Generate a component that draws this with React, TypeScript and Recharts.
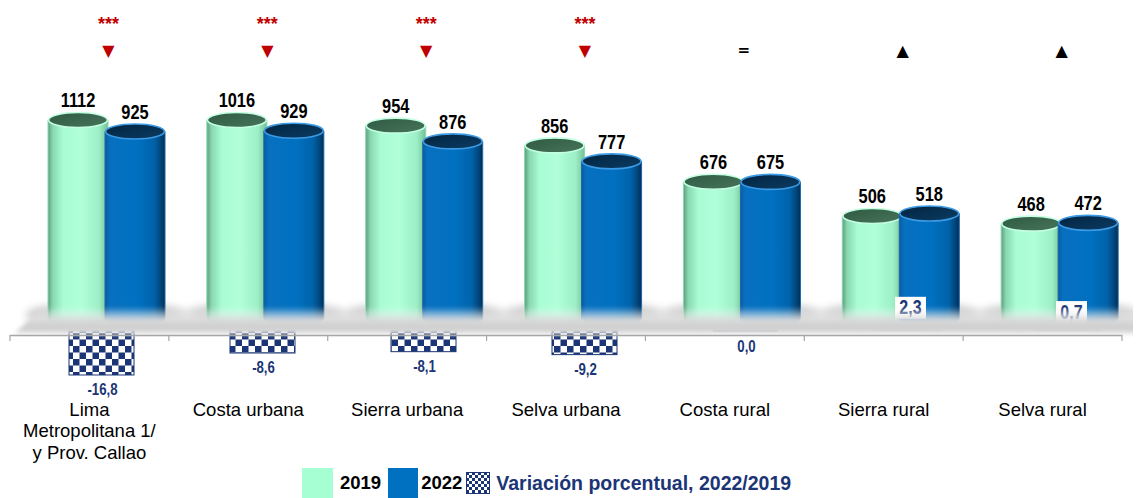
import React from "react";
import { ComposedChart, Bar, XAxis, YAxis, ReferenceLine } from "recharts";

// ---------- data ----------
const categories = [
  "Lima\nMetropolitana 1/\ny Prov. Callao",
  "Costa urbana",
  "Sierra urbana",
  "Selva urbana",
  "Costa rural",
  "Sierra rural",
  "Selva rural",
];
const values2019 = [1112, 1016, 954, 856, 676, 506, 468];
const values2022 = [925, 929, 876, 777, 675, 518, 472];
const variation = [-16.8, -8.6, -8.1, -9.2, 0.0, 2.3, 0.7];
const significance = ["***", "***", "***", "***", "", "", ""];
const direction = ["▼", "▼", "▼", "▼", "=", "▲", "▲"];
const seriesNames = ["2019", "2022", "Variación porcentual, 2022/2019"];

const data = categories.map((cat, i) => ({
  cat,
  y2019: values2019[i],
  y2022: values2022[i],
  variation: variation[i],
}));

// ---------- layout / style ----------
const CHART_W = 1133;
const CHART_H = 460;
const TOP_AXIS_H = 128;
const BOTTOM_AXIS_H = 89;
const MARGIN = { top: 0, right: 19, left: 2, bottom: 0 };
const PLOT_TOP = MARGIN.top + TOP_AXIS_H;
const DEPTH_DX = 17;
const DEPTH_DY = -16;
const RY = 7.5;
const NAVY = "#1b3576";
const SANS = '"Liberation Sans", Arial, sans-serif';
const CONDENSE = 0.8;

const GREEN = { body: "url(#gBody)", top: "url(#gTop)", rim: "#c4ffe2", outline: "#86d9b0" };
const BLUE = { body: "url(#bBody)", top: "url(#bTop)", rim: "#3d9ae4", outline: "#1867ad" };

const fmt = (v: number) => v.toFixed(1).replace(".", ",");

// condensed bold text (Arial Narrow look)
const NarrowText = ({ x, y, size, fill, children }: any) => (
  <text
    transform={`translate(${x},${y}) scale(${CONDENSE},1)`}
    x={0}
    y={0}
    textAnchor="middle"
    dominantBaseline="central"
    fontFamily={SANS}
    fontWeight="bold"
    fontSize={size}
    fill={fill}
  >
    {children}
  </text>
);

function makeCylinder(key: "y2019" | "y2022") {
  const c = key === "y2019" ? GREEN : BLUE;
  return (p: any) => {
    const { x, y, width, height, payload } = p;
    if (x == null || y == null) return null;
    const top0 = Math.min(y, y + height);
    const bot0 = Math.max(y, y + height);
    const topY = Math.max(top0, PLOT_TOP) + DEPTH_DY;
    const botY = bot0 + DEPTH_DY;
    const left = x + DEPTH_DX;
    const w = width;
    const rx = w / 2;
    const cx = left + rx;
    const shadowDx = key === "y2019" ? -10 : 10;
    return (
      <g>
        <ellipse
          cx={cx + shadowDx}
          cy={botY - 3}
          rx={rx + 12}
          ry={10}
          fill="#8a8a8a"
          opacity={0.5}
          filter="url(#shadowBlur)"
        />
        <path
          d={`M${left},${topY} L${left},${botY} A${rx},${RY} 0 0 0 ${left + w},${botY} L${left + w},${topY} Z`}
          fill={c.body}
          stroke={c.outline}
          strokeWidth={1}
        />
        <ellipse cx={cx} cy={topY} rx={rx - 0.6} ry={RY} fill={c.top} stroke={c.rim} strokeWidth={1.6} />
        <NarrowText x={cx} y={topY - 20} size={20.5} fill="#000">
          {payload[key]}
        </NarrowText>
      </g>
    );
  };
}

const VarBar = (p: any) => {
  const { x, y, width, height, payload } = p;
  if (x == null || y == null) return null;
  const v = payload.variation as number;
  const top = Math.min(y, y + height);
  const h = Math.abs(height);
  const cx = x + width / 2;
  return (
    <g>
      {h < 1 ? (
        <rect x={x} y={top - 1.5} width={width} height={3} fill={NAVY} />
      ) : (
        <rect x={x} y={top} width={width} height={h} fill="url(#checker)" stroke={NAVY} strokeWidth={1} />
      )}
      {v > 0 ? (
        <g>
          <rect x={cx + 4 - 15.5} y={top - 27} width={31} height={22} fill="#fff" />
          <NarrowText x={cx + 4} y={top - 16} size={20} fill={NAVY}>
            {fmt(v)}
          </NarrowText>
        </g>
      ) : (
        <g>
          <rect x={cx - 16} y={top + Math.max(h, 1.5) + 3} width={32} height={22} fill="#fff" />
          <NarrowText x={cx + 1} y={top + Math.max(h, 1.5) + 14} size={16.5} fill={NAVY}>
            {fmt(v)}
          </NarrowText>
        </g>
      )}
    </g>
  );
};

const CatTick = (p: any) => {
  const { x, y, payload } = p;
  const lines = String(payload.value).split("\n");
  return (
    <g>
      {lines.map((l, k) => (
        <text
          key={k}
          x={x}
          y={y + 22 + k * 21.5}
          textAnchor="middle"
          dominantBaseline="central"
          fontFamily={SANS}
          fontSize={18.5}
          fill="#000"
        >
          {l}
        </text>
      ))}
    </g>
  );
};

const TopTick = (p: any) => {
  const { x, payload } = p;
  const i = payload.index;
  const cx = x + DEPTH_DX + 2;
  const d = direction[i];
  const isTri = d !== "=";
  return (
    <g>
      {significance[i] ? (
        <text x={cx} y={22} textAnchor="middle" fontFamily={SANS} fontWeight="bold" fontSize={18} fill="#c00000">
          {significance[i]}
        </text>
      ) : null}
      <text
        x={cx}
        y={42}
        textAnchor="middle"
        dominantBaseline="central"
        fontFamily='"DejaVu Sans", sans-serif'
        fontWeight="bold"
        fontSize={isTri ? 16 : 15}
        fill={d === "▼" ? "#c00000" : "#000"}
      >
        {d}
      </text>
    </g>
  );
};

const FloorAndAxis = (p: any) => {
  const { x1, y1, x2 } = p;
  if (x1 == null) return null;
  const y0 = y1;
  const n = categories.length;
  const band = (x2 - x1) / n;
  return (
    <g>
      <polygon
        points={`${x1 + 4},${y0} ${x1 + 32},${y0 - 27} ${x2 + 19},${y0 - 27} ${x2 + 19},${y0}`}
        fill="url(#floorGrad)"
        filter="url(#floorBlur)"
      />
      <line x1={x1} y1={y0 + 1.5} x2={x2} y2={y0 + 1.5} stroke="#a6a6a6" strokeWidth={1.5} />
      {Array.from({ length: n + 1 }, (_, k) => (
        <line key={k} x1={x1 + k * band} y1={y0 + 1} x2={x1 + k * band} y2={y0 + 7} stroke="#a6a6a6" strokeWidth={1.2} />
      ))}
    </g>
  );
};

export default function App() {
  return (
    <div className="chart3d" style={{ position: "relative", width: CHART_W, height: 490 }}>
      <style>{`html,body{overflow:hidden} .chart3d g[clip-path]{clip-path:none !important}`}</style>
      <svg width="0" height="0" style={{ position: "absolute" }}>
        <defs>
          <linearGradient id="gBody" x1="0" y1="0" x2="1" y2="0">
            <stop offset="0" stopColor="#5f9c7d" />
            <stop offset="0.08" stopColor="#88d8b0" />
            <stop offset="0.25" stopColor="#a9fcd3" />
            <stop offset="0.55" stopColor="#b0ffda" />
            <stop offset="0.85" stopColor="#9cefc6" />
            <stop offset="1" stopColor="#74bf98" />
          </linearGradient>
          <linearGradient id="gTop" x1="0" y1="0" x2="1" y2="1">
            <stop offset="0" stopColor="#2f5a43" />
            <stop offset="1" stopColor="#47745a" />
          </linearGradient>
          <linearGradient id="bBody" x1="0" y1="0" x2="1" y2="0">
            <stop offset="0" stopColor="#0a5c9e" />
            <stop offset="0.08" stopColor="#0870c0" />
            <stop offset="0.55" stopColor="#0070c0" />
            <stop offset="0.82" stopColor="#0062a9" />
            <stop offset="0.93" stopColor="#01467c" />
            <stop offset="1" stopColor="#002d52" />
          </linearGradient>
          <linearGradient id="bTop" x1="0" y1="0" x2="1" y2="1">
            <stop offset="0" stopColor="#032440" />
            <stop offset="1" stopColor="#0b3c63" />
          </linearGradient>
          <pattern id="checker" width="13" height="13" patternUnits="userSpaceOnUse">
            <rect width="13" height="13" fill="#fff" />
            <rect width="6.5" height="6.5" fill={NAVY} />
            <rect x="6.5" y="6.5" width="6.5" height="6.5" fill={NAVY} />
          </pattern>
          <pattern id="checkerSmall" width="6" height="6" patternUnits="userSpaceOnUse">
            <rect width="6" height="6" fill="#fff" />
            <rect width="3" height="3" fill={NAVY} />
            <rect x="3" y="3" width="3" height="3" fill={NAVY} />
          </pattern>
          <linearGradient id="floorGrad" x1="0" y1="0" x2="0" y2="1">
            <stop offset="0" stopColor="#ffffff" stopOpacity="0" />
            <stop offset="0.5" stopColor="#d9d9d9" />
            <stop offset="0.8" stopColor="#cdcdcd" />
            <stop offset="1" stopColor="#e8e8e8" />
          </linearGradient>
          <filter id="floorBlur" x="-5%" y="-50%" width="110%" height="200%">
            <feGaussianBlur stdDeviation="2" />
          </filter>
          <filter id="shadowBlur" x="-50%" y="-100%" width="200%" height="300%">
            <feGaussianBlur stdDeviation="4" />
          </filter>
        </defs>
      </svg>
      <ComposedChart width={CHART_W} height={CHART_H} data={data} margin={MARGIN} barGap={-3}>
        <XAxis
          xAxisId="top"
          orientation="top"
          dataKey="cat"
          height={TOP_AXIS_H}
          axisLine={false}
          tickLine={false}
          interval={0}
          tick={<TopTick />}
        />
        <XAxis
          xAxisId="cat"
          dataKey="cat"
          height={BOTTOM_AXIS_H}
          axisLine={false}
          tickLine={false}
          interval={0}
          tick={<CatTick />}
        />
        <XAxis xAxisId="var" dataKey="cat" hide padding={{ left: 11, right: -26 }} />
        <YAxis yAxisId="main" hide domain={[-223, 982]} allowDataOverflow />
        <YAxis yAxisId="var" hide domain={[-18.3, 72.4]} />
        <ReferenceLine xAxisId="cat" yAxisId="main" y={0} shape={<FloorAndAxis />} />
        <Bar
          xAxisId="cat"
          yAxisId="main"
          dataKey="y2019"
          name={seriesNames[0]}
          barSize={60}
          isAnimationActive={false}
          shape={makeCylinder("y2019")}
        />
        <Bar
          xAxisId="cat"
          yAxisId="main"
          dataKey="y2022"
          name={seriesNames[1]}
          barSize={60}
          isAnimationActive={false}
          shape={makeCylinder("y2022")}
        />
        <Bar
          xAxisId="var"
          yAxisId="var"
          dataKey="variation"
          name={seriesNames[2]}
          barSize={65}
          isAnimationActive={false}
          shape={VarBar}
        />
      </ComposedChart>
      <div
        style={{
          position: "absolute",
          top: 460,
          left: 294,
          display: "flex",
          alignItems: "center",
          height: 30,
          fontFamily: SANS,
          fontWeight: "bold",
          whiteSpace: "nowrap",
        }}
      >
        <span style={{ width: 31, height: 30, background: "#a6ffd2", marginRight: 7 }} />
        <span style={{ fontSize: 18.5, color: "#000", marginRight: 7 }}>{seriesNames[0]}</span>
        <span style={{ width: 30, height: 30, background: "#0070c0", marginRight: 3 }} />
        <span style={{ fontSize: 18.5, color: "#000", marginRight: 4 }}>{seriesNames[1]}</span>
        <svg width="24" height="22" style={{ marginRight: 6 }}>
          <rect x="0.5" y="0.5" width="23" height="21" fill="url(#checkerSmall)" stroke={NAVY} strokeWidth={1} />
        </svg>
        <span style={{ fontSize: 19.5, color: NAVY }}>{seriesNames[2]}</span>
      </div>
    </div>
  );
}
